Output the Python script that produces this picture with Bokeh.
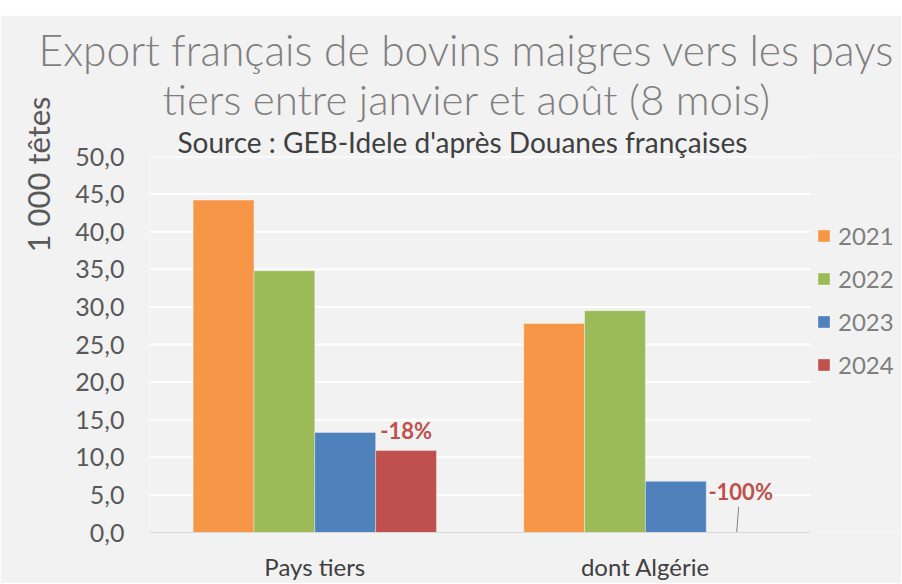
import math
from bokeh.plotting import figure
from bokeh.models import (ColumnDataSource, Range1d, FixedTicker, CustomJSTickFormatter,
                          Legend, LegendItem, Title, Spacer)
from bokeh.layouts import column
from bokeh.transform import dodge
from bokeh.core.properties import value
from bokeh.embed import file_html
from bokeh.resources import INLINE

# ---- data ----
categories = ["Pays tiers", "dont Algérie"]
years = ["2021", "2022", "2023", "2024"]
v2021 = [44.2, 27.8]
v2022 = [34.8, 29.5]
v2023 = [13.3, 6.8]
v2024 = [10.9, 0.0]
change_labels = ["-18%", "-100%"]
y_ticks = [0, 5, 10, 15, 20, 25, 30, 35, 40, 45, 50]

title_1 = "Export français de bovins maigres vers les pays"
title_2 = "tiers entre janvier et août (8 mois)"
subtitle = "Source : GEB-Idele d'après Douanes françaises"
y_title = "1 000 têtes"

colors = ["#f79646", "#9bbb59", "#4f81bd", "#c0504d"]
FONT = "Lato"
LIGHT_FONT = "'Lato Light', Lato"
BG = "#f2f2f2"

# ---- layout geometry (pixels) ----
PAD_T = 15
W, H = 901, 568
LEFT, TOP, BOTTOM = 147, 141, 48
frame_w = W - LEFT
cat_px = 331.5           # pixel width of one category

ncat = len(categories)
xpos = [i + 0.5 for i in range(ncat)]
src = ColumnDataSource(dict(x=xpos, y2021=v2021, y2022=v2022, y2023=v2023, y2024=v2024,
                            lab=change_labels))

p = figure(width=W, height=H, title=None,
           x_range=Range1d(0, frame_w / cat_px),
           y_range=Range1d(0, y_ticks[-1]),
           output_backend="svg", toolbar_location=None,
           min_border_left=LEFT, min_border_right=0, min_border_top=TOP, min_border_bottom=BOTTOM)
p.background_fill_color = BG
p.border_fill_color = BG
p.outline_line_color = None

# gridlines limited to the category area
p.xgrid.grid_line_color = None
p.ygrid.grid_line_color = None
p.segment(x0=0, x1=ncat, y0=y_ticks[1:], y1=y_ticks[1:], line_color="#ffffff", line_width=2)

bw = 0.184
offsets = [-1.5 * bw, -0.5 * bw, 0.5 * bw, 1.5 * bw]
renderers = []
for yr, col, off in zip(years, colors, offsets):
    r = p.vbar(x=dodge("x", off), top="y" + yr, width=bw, source=src,
               fill_color=col, line_color="#ffffff", line_alpha=0.35, line_width=1)
    renderers.append(r)

# change labels over the 2024 bars
p.text(x=[xpos[0] + offsets[3]], y=[v2024[0]], text=[change_labels[0]],
       text_font=value(FONT), text_font_style="bold", text_font_size="22px", text_color="#c0504d",
       text_align="center", text_baseline="alphabetic", y_offset=-20)
p.text(x=[xpos[1] + offsets[3] + 0.012], y=[v2024[1]], text=[change_labels[1]],
       text_font=value(FONT), text_font_style="bold", text_font_size="22px", text_color="#c0504d",
       text_align="center", text_baseline="alphabetic", y_offset=-41)
p.segment(x0=[xpos[1] + offsets[3] + 0.006], y0=[v2024[1] + 3.4],
          x1=[xpos[1] + offsets[3]], y1=[v2024[1]], line_color="#808080", line_width=1)

# axes
p.yaxis.ticker = FixedTicker(ticks=y_ticks)
p.yaxis.formatter = CustomJSTickFormatter(code="return tick.toFixed(1).replace('.', ',');")
p.yaxis.axis_line_color = None
p.yaxis.major_tick_line_color = None
p.yaxis.minor_tick_line_color = None
p.yaxis.major_tick_out = 0
p.yaxis.major_tick_in = 0
p.yaxis.major_label_text_font = FONT
p.yaxis.major_label_text_font_size = "25px"
p.yaxis.major_label_text_color = "#595959"
p.yaxis.major_label_standoff = 25

p.xaxis.ticker = FixedTicker(ticks=xpos)
p.xaxis.formatter = CustomJSTickFormatter(args=dict(labels=categories),
                                          code="return labels[Math.round(tick - 0.5)] || '';")
p.xaxis.bounds = (0, ncat)
p.xaxis.axis_line_color = "#d9d9d9"
p.xaxis.axis_line_width = 1
p.xaxis.major_tick_line_color = None
p.xaxis.minor_tick_line_color = None
p.xaxis.major_tick_out = 0
p.xaxis.major_tick_in = 0
p.xaxis.major_label_text_font = FONT
p.xaxis.major_label_text_font_size = "24px"
p.xaxis.major_label_text_color = "#404040"
p.xaxis.major_label_standoff = 19

# y-axis title, in the left panel, towards the top
p.add_layout(Title(text=y_title, align="right", offset=-60, standoff=32,
                   text_font=FONT, text_font_size="31px", text_font_style="normal",
                   text_color="#595959"), "left")

# titles: closest to the plot first
p.add_layout(Title(text=subtitle, align="left", offset=28, standoff=-4,
                   text_font=FONT, text_font_size="28px", text_font_style="normal",
                   text_color="#404040"), "above")
p.add_layout(Title(text=title_2, align="left", offset=13, standoff=2,
                   text_font=LIGHT_FONT, text_font_size="42px", text_font_style="normal",
                   text_color="#7f7f7f"), "above")
p.add_layout(Title(text=title_1, align="left", offset=-111, standoff=-8,
                   text_font=LIGHT_FONT, text_font_size="42.5px", text_font_style="normal",
                   text_color="#7f7f7f"), "above")

# legend
legend = Legend(items=[LegendItem(label=yr, renderers=[r]) for yr, r in zip(years, renderers)],
                location=(667, 153), glyph_width=15, glyph_height=15, label_standoff=7,
                spacing=14, padding=0, margin=0, label_text_font=FONT,
                label_text_font_size="24px", label_text_color="#7f7f7f",
                background_fill_alpha=0, border_line_color=None)
p.add_layout(legend, "center")

layout = column(Spacer(height=PAD_T, width=W), p)
open("out.html", "w").write(file_html(layout, INLINE))
